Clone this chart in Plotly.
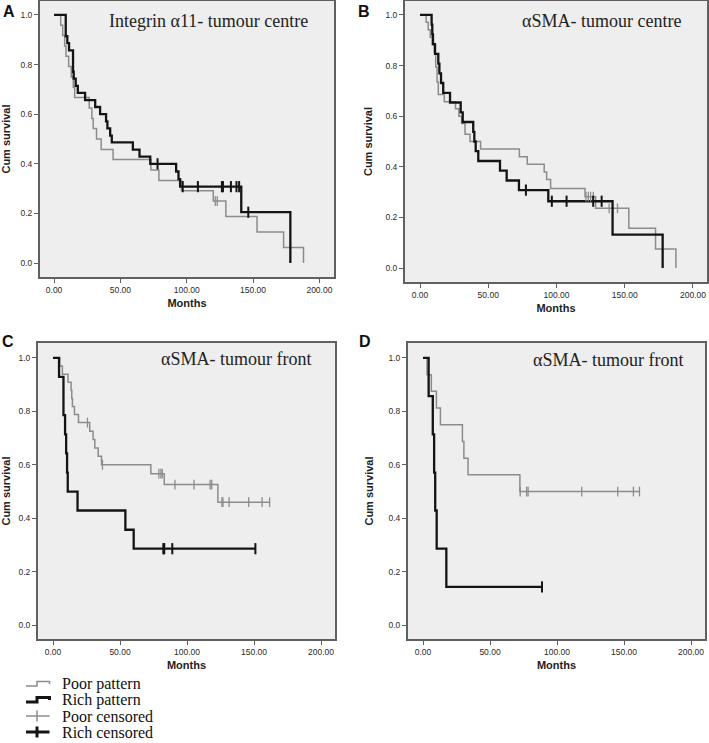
import plotly.graph_objects as go

# ---- values (months, cumulative survival) ----
# A: Integrin a11 - tumour centre
a_poor_t = [0, 5, 6.5, 8, 9, 11, 13, 14.5, 15.5, 26.5, 28.5, 29.5, 32, 35.5, 44.5, 73, 79, 96, 120, 129.5, 153, 173, 188]
a_poor_s = [1, 0.958, 0.917, 0.875, 0.833, 0.792, 0.75, 0.708, 0.667, 0.625, 0.583, 0.542, 0.5, 0.458, 0.417, 0.375, 0.333, 0.292, 0.25, 0.188, 0.125, 0.0625, 0]
a_poor_cens_t = [121.5, 123]
a_poor_cens_s = [0.25, 0.25]
a_rich_t = [0, 8.8, 10, 11.3, 14.3, 14.8, 16.3, 17.9, 23.4, 31, 34.7, 39.2, 40.2, 42.3, 43.5, 59.4, 64.4, 72.5, 92, 93.8, 95, 141.1, 178.1]
a_rich_s = [1, 0.914, 0.886, 0.857, 0.771, 0.743, 0.714, 0.686, 0.657, 0.629, 0.6, 0.571, 0.543, 0.514, 0.486, 0.457, 0.429, 0.4, 0.369, 0.338, 0.308, 0.205, 0]
a_rich_cens_t = [78, 97, 108.4, 126.5, 127.3, 133.3, 137.5, 139.5, 146.4]
a_rich_cens_s = [0.4, 0.308, 0.308, 0.308, 0.308, 0.308, 0.308, 0.308, 0.205]

# B: aSMA - tumour centre
b_poor_t = [0, 4.5, 6, 7.5, 9, 10.5, 11.5, 12.5, 13.4, 17.8, 26, 28.5, 30.5, 33, 36.6, 44.4, 72.8, 78.6, 91, 92.8, 95.7, 120.9, 128.7, 153, 172.6, 187.5]
b_poor_s = [1, 0.971, 0.941, 0.912, 0.882, 0.853, 0.794, 0.735, 0.686, 0.657, 0.629, 0.6, 0.571, 0.529, 0.5, 0.47, 0.44, 0.41, 0.38, 0.35, 0.314, 0.282, 0.236, 0.157, 0.075, 0]
b_poor_cens_t = [121.6, 123.3, 125, 127, 138.6, 144.7]
b_poor_cens_s = [0.282, 0.282, 0.282, 0.282, 0.236, 0.236]
b_rich_t = [0, 8.5, 9, 9.5, 11, 13.4, 14.2, 15.4, 17, 22, 29.8, 31.3, 39, 39.8, 40.8, 42.7, 58.6, 63.5, 72.5, 94, 141.1, 177.8]
b_rich_s = [1, 0.962, 0.923, 0.885, 0.846, 0.808, 0.769, 0.731, 0.692, 0.654, 0.615, 0.577, 0.538, 0.5, 0.462, 0.423, 0.385, 0.346, 0.308, 0.264, 0.132, 0]
b_rich_cens_t = [77.6, 96.6, 107.4, 126.9, 133.1]
b_rich_cens_s = [0.308, 0.264, 0.264, 0.264, 0.264]

# C: aSMA - tumour front
c_poor_t = [0, 5, 7, 11.2, 13.5, 14, 14.5, 16, 19, 27.4, 29.9, 31.2, 33.7, 36.2, 73, 83, 123, 161.6]
c_poor_s = [1, 0.97, 0.939, 0.909, 0.879, 0.848, 0.818, 0.788, 0.758, 0.726, 0.695, 0.663, 0.632, 0.6, 0.567, 0.526, 0.46, 0.46]
c_poor_cens_t = [25.7, 36.9, 79, 80.5, 81.5, 91, 105.2, 117.2, 118.4, 126, 126.8, 131.4, 146, 156, 161.6]
c_poor_cens_s = [0.758, 0.6, 0.567, 0.567, 0.567, 0.526, 0.526, 0.526, 0.526, 0.46, 0.46, 0.46, 0.46, 0.46, 0.46]
c_rich_t = [0, 4.5, 7.8, 9, 9.8, 10.5, 11, 18.3, 54, 60.2, 151]
c_rich_s = [1, 0.929, 0.786, 0.714, 0.643, 0.571, 0.5, 0.429, 0.357, 0.286, 0.286]
c_rich_cens_t = [82.3, 83, 89, 151]
c_rich_cens_s = [0.286, 0.286, 0.286, 0.286]

# D: aSMA - tumour front
d_poor_t = [0, 3, 6.2, 10, 13, 29.4, 30.5, 33.6, 72.3, 161.5]
d_poor_s = [1, 0.9375, 0.875, 0.8125, 0.75, 0.6875, 0.625, 0.5625, 0.5, 0.5]
d_poor_cens_t = [72.5, 77.3, 78.4, 118.4, 145.3, 157, 161.5]
d_poor_cens_s = [0.5, 0.5, 0.5, 0.5, 0.5, 0.5, 0.5]
d_rich_t = [0, 4.2, 7.3, 8.3, 9.1, 10.2, 17.4, 88.8]
d_rich_s = [1, 0.857, 0.714, 0.571, 0.429, 0.286, 0.143, 0.143]
d_rich_cens_t = [88.8]
d_rich_cens_s = [0.143]

panel_letters = ["A", "B", "C", "D"]
panel_titles = ["Integrin \u03b111- tumour centre", "\u03b1SMA- tumour centre",
                "\u03b1SMA- tumour front", "\u03b1SMA- tumour front"]
x_ticks = [0, 50, 100, 150, 200]
y_ticks = [0, 0.2, 0.4, 0.6, 0.8, 1.0]
legend_labels = ["Poor pattern", "Rich pattern", "Poor censored", "Rich censored"]

W, H = 709, 743
POOR = "#8c8c8c"
RICH = "#141414"
FRAME = "#606060"
SANS = "Liberation Sans, Arial, sans-serif"
SERIF = "Liberation Serif, Times New Roman, serif"


def fx(px):
    return px / W


def fy(py):
    return 1 - py / H


# pixel boxes of each plot frame (left, top, right, bottom) and axis ranges
panels = [
    dict(box=(40, 1, 334, 277), xr=[-10.6, 211], yr=[-0.056, 1.056],
         curves=[(a_poor_t, a_poor_s, a_poor_cens_t, a_poor_cens_s),
                 (a_rich_t, a_rich_s, a_rich_cens_t, a_rich_cens_s)],
         letter=(9, 11), title=(310, 21), ystand=10),
    dict(box=(405, 1, 707, 282), xr=[-11, 210.3], yr=[-0.055, 1.055],
         curves=[(b_poor_t, b_poor_s, b_poor_cens_t, b_poor_cens_s),
                 (b_rich_t, b_rich_s, b_rich_cens_t, b_rich_cens_s)],
         letter=(364, 11), title=(683, 21), ystand=11),
    dict(box=(38, 343, 335, 639), xr=[-11.2, 210.4], yr=[-0.052, 1.056],
         curves=[(c_poor_t, c_poor_s, c_poor_cens_t, c_poor_cens_s),
                 (c_rich_t, c_rich_s, c_rich_cens_t, c_rich_cens_s)],
         letter=(8, 342), title=(313, 359), ystand=6),
    dict(box=(408, 343, 705, 639), xr=[-11.2, 210.4], yr=[-0.052, 1.056],
         curves=[(d_poor_t, d_poor_s, d_poor_cens_t, d_poor_cens_s),
                 (d_rich_t, d_rich_s, d_rich_cens_t, d_rich_cens_s)],
         letter=(365, 342), title=(685, 360), ystand=13),
]

fig = go.Figure()
annotations = []
layout_axes = {}

for i, p in enumerate(panels):
    n = "" if i == 0 else str(i + 1)
    xa, ya = "x" + n, "y" + n
    l, t, r, b = p["box"]
    for k, (tt, ss, ct, cs) in enumerate(p["curves"]):
        color = POOR if k == 0 else RICH
        width = 1.5 if k == 0 else 2.3
        fig.add_trace(go.Scatter(x=tt, y=ss, mode="lines", line=dict(color=color, width=width, shape="hv"),
                                 xaxis=xa, yaxis=ya, showlegend=False, hoverinfo="skip"))
    for k, (tt, ss, ct, cs) in enumerate(p["curves"]):
        color = POOR if k == 0 else RICH
        fig.add_trace(go.Scatter(x=ct, y=cs, mode="markers",
                                 marker=dict(symbol="line-ns-open", size=7 if k == 0 else 8, color=color,
                                             line=dict(color=color, width=1.3 if k == 0 else 2)),
                                 xaxis=xa, yaxis=ya, showlegend=False, hoverinfo="skip"))
    axis_common = dict(showline=True, linecolor=FRAME, linewidth=2, mirror=True,
                       showgrid=False, zeroline=False, ticks="outside", ticklen=4,
                       tickcolor=FRAME, tickwidth=1,
                       tickfont=dict(family=SANS, size=8.5, color="#2a2a2a"))
    layout_axes["xaxis" + n] = dict(axis_common, domain=[fx(l), fx(r)], range=p["xr"],
                                    anchor=ya, tickvals=x_ticks, tickformat=".2f",
                                    title=dict(text="<b>Months</b>", standoff=5,
                                               font=dict(family=SANS, size=11, color="#222222")))
    layout_axes["yaxis" + n] = dict(axis_common, domain=[fy(b), fy(t)], range=p["yr"],
                                    anchor=xa, tickvals=y_ticks, tickformat=".1f",
                                    title=dict(text="<b>Cum survival</b>", standoff=p["ystand"],
                                               font=dict(family=SANS, size=11, color="#222222")))
    lx, ly = p["letter"]
    annotations.append(dict(text="<b>%s</b>" % panel_letters[i], x=fx(lx), y=fy(ly),
                            xref="paper", yref="paper", showarrow=False,
                            xanchor="center", yanchor="middle",
                            font=dict(family=SANS, size=16, color="#111111")))
    tx, ty = p["title"]
    annotations.append(dict(text=panel_titles[i], x=fx(tx), y=fy(ty), xref="paper", yref="paper",
                            showarrow=False, xanchor="right", yanchor="middle",
                            font=dict(family=SERIF, size=18, color="#222222")))

# legend at the bottom left, drawn by hand
shapes = []
leg_rows = [684, 700, 716, 732]
for j, lab in enumerate(legend_labels):
    yc = leg_rows[j]
    color = POOR if j % 2 == 0 else RICH
    w = 1.5 if j % 2 == 0 else 3
    if j < 2:
        path = "M %f,%f L %f,%f L %f,%f L %f,%f L %f,%f" % (
            fx(26), fy(yc + 2), fx(37), fy(yc + 2), fx(37), fy(yc - 2.5),
            fx(49.5), fy(yc - 2.5), fx(49.5), fy(yc))
        shapes.append(dict(type="path", path=path, xref="paper", yref="paper",
                           line=dict(color=color, width=w)))
    else:
        shapes.append(dict(type="line", x0=fx(26), x1=fx(49.5), y0=fy(yc), y1=fy(yc),
                           xref="paper", yref="paper", line=dict(color=color, width=w)))
        shapes.append(dict(type="line", x0=fx(37), x1=fx(37), y0=fy(yc - 5.5), y1=fy(yc + 5.5),
                           xref="paper", yref="paper", line=dict(color=color, width=w)))
    annotations.append(dict(text=lab, x=fx(60), y=fy(yc), xref="paper", yref="paper",
                            showarrow=False, xanchor="left", yanchor="middle",
                            font=dict(family=SERIF, size=16, color="#111111")))

fig.update_layout(
    width=W, height=H,
    margin=dict(l=0, r=0, t=0, b=0),
    paper_bgcolor="white",
    plot_bgcolor="#eeeeee",
    showlegend=False,
    annotations=annotations,
    shapes=shapes,
    **layout_axes,
)

# drop the default page margin so the figure sits at the window's corner
fig.write_html("out.html", config={"displayModeBar": False},
               post_script="document.body.style.margin='0';")
